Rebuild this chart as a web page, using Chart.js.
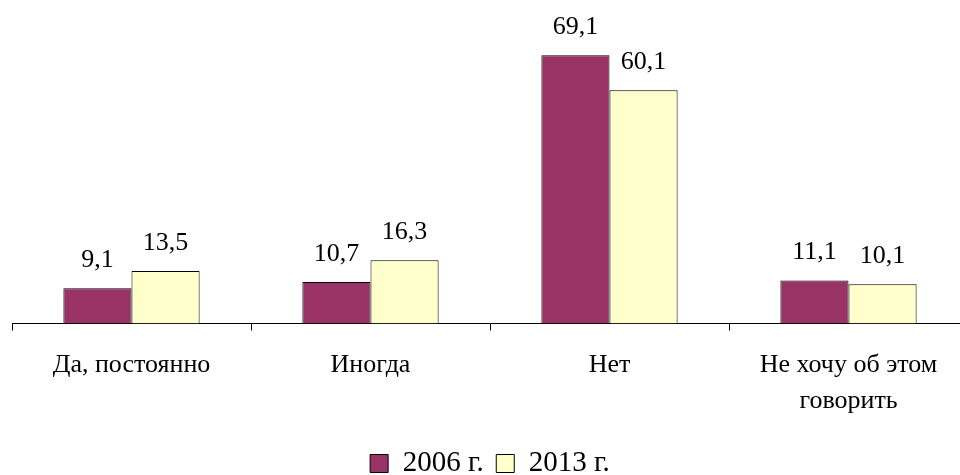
<!DOCTYPE html>
<html>
<head>
<meta charset="utf-8">
<script src="https://cdn.jsdelivr.net/npm/chart.js@4"></script>
<style>
    body { margin: 0; overflow: hidden; background: #fff; }
    #wrap { width: 970px; height: 488px; }
</style>
</head>
<body>
<div id="wrap"><canvas id="chart1" width="970" height="488"></canvas></div>
<script>
// Категории и значения
const categories = ['Да, постоянно', 'Иногда', 'Нет', ['Не хочу об этом', 'говорить']];
const values2006 = [9.1, 10.7, 69.1, 11.1];
const values2013 = [13.5, 16.3, 60.1, 10.1];

const FONT = 'Liberation Serif, Times New Roman, serif';

// Подписи над столбцами
const valueLabels = {
    id: 'valueLabels',
    afterDatasetsDraw(chart) {
        const ctx = chart.ctx;
        ctx.save();
        ctx.font = '26px ' + FONT;
        ctx.fillStyle = '#000';
        ctx.textAlign = 'center';
        ctx.textBaseline = 'alphabetic';
        chart.data.datasets.forEach((ds, i) => {
            chart.getDatasetMeta(i).data.forEach((bar, j) => {
                ctx.fillText(ds.data[j].toFixed(1).replace('.', ','), bar.x, bar.y - 21);
            });
        });
        ctx.restore();
    }
};

const ctx1 = document.getElementById('chart1').getContext('2d');
new Chart(ctx1, {
    type: 'bar',
    data: {
        labels: categories,
        datasets: [
            {
                label: '2006 г.',
                data: values2006,
                backgroundColor: '#993366',
                borderColor: '#000',
                borderWidth: 1
            },
            {
                label: '2013 г.',
                data: values2013,
                backgroundColor: '#FFFFCC',
                borderColor: '#000',
                borderWidth: 1
            }
        ]
    },
    options: {
        responsive: false,
        animation: false,
        layout: {
            padding: { left: 12, right: 2, top: 13, bottom: 0 }
        },
        datasets: {
            bar: { categoryPercentage: 0.57, barPercentage: 1 }
        },
        scales: {
            y: {
                display: false,
                min: 0,
                max: 80
            },
            x: {
                border: { color: '#000', width: 1 },
                grid: {
                    offset: true,
                    drawOnChartArea: false,
                    color: '#000',
                    tickLength: 7
                },
                ticks: {
                    color: '#000',
                    padding: 17,
                    maxRotation: 0,
                    font: { family: FONT, size: 26, lineHeight: '36px' }
                }
            }
        },
        plugins: {
            tooltip: { enabled: false },
            legend: {
                position: 'bottom',
                labels: {
                    color: '#000',
                    boxWidth: 18,
                    boxHeight: 18,
                    padding: 12.5,
                    font: { family: FONT, size: 29 }
                }
            }
        }
    },
    plugins: [valueLabels]
});
</script>
</body>
</html>
